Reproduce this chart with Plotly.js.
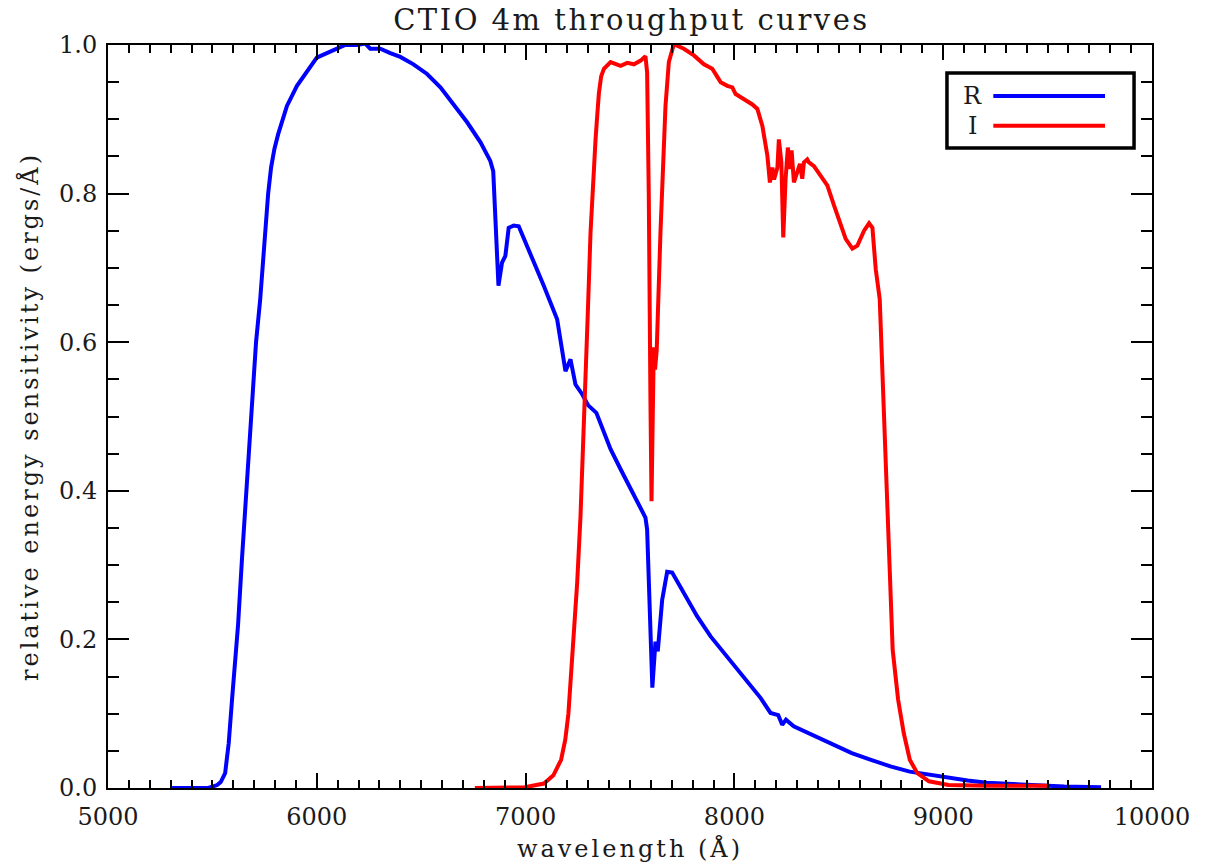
<!DOCTYPE html>
<html>
<head>
<meta charset="utf-8">
<script src="https://cdn.plot.ly/plotly-3.0.1.min.js"></script>
<style>
  html, body { margin: 0; padding: 0; background: #fff; }
  #chart { width: 1205px; height: 867px; }
  .gtitle { letter-spacing: 2.5px; }
  .xtitle, .ytitle { letter-spacing: 3px; }
</style>
</head>
<body>
<div id="chart"></div>
<script>
// CTIO 4m R-band throughput: wavelength (Å) and relative sensitivity
const rWave = [5307, 5480, 5523, 5540, 5561, 5578, 5594, 5608, 5623, 5642, 5662, 5685, 5709, 5729, 5748,
  5767, 5781, 5797, 5815, 5835, 5857, 5905,
  5953, 6000, 6048, 6096, 6136, 6192, 6232, 6256, 6304, 6352, 6400, 6463, 6528, 6592, 6655, 6720,
  6784, 6831, 6845, 6855, 6863, 6870, 6887, 6903, 6919, 6943, 6967, 7023, 7087, 7151, 7167, 7191,
  7215, 7239, 7271, 7300, 7339, 7407, 7455, 7503, 7574, 7582, 7590, 7598, 7607, 7622, 7633, 7654, 7678,
  7702, 7758, 7822, 7886, 7950, 8014, 8078, 8126, 8173, 8210, 8229, 8247, 8284, 8377, 8469, 8562,
  8654, 8747, 8840, 8932, 9025, 9117, 9209, 9394, 9580, 9756];
const rResp = [0.000, 0.000, 0.004, 0.008, 0.020, 0.060, 0.119, 0.170, 0.220, 0.310, 0.400, 0.500, 0.600, 0.658, 0.739,
  0.800, 0.835, 0.860, 0.880, 0.900, 0.918, 0.945,
  0.965, 0.983, 0.989, 0.995, 1.000, 1.000, 1.002, 0.995, 0.995, 0.989, 0.984, 0.974, 0.961, 0.943, 0.920, 0.896,
  0.869, 0.844, 0.830, 0.770, 0.720, 0.676, 0.707, 0.716, 0.754, 0.757, 0.756, 0.720, 0.676, 0.631, 0.604, 0.561,
  0.577, 0.543, 0.530, 0.515, 0.505, 0.456, 0.429, 0.402, 0.364, 0.348, 0.276, 0.186, 0.135, 0.197, 0.184, 0.253, 0.291,
  0.290, 0.263, 0.231, 0.204, 0.182, 0.159, 0.139, 0.121, 0.101, 0.098, 0.085, 0.092, 0.083, 0.071, 0.058, 0.047,
  0.038, 0.029, 0.022, 0.018, 0.013, 0.010, 0.007, 0.004, 0.002, 0.001];

// CTIO 4m I-band throughput
const iWave = [6757, 6996, 7088, 7133, 7170, 7190, 7205, 7218, 7231, 7247, 7263, 7276, 7287, 7298, 7311,
  7319, 7327, 7335, 7343, 7351, 7362, 7375, 7407, 7455, 7487, 7519, 7551, 7574, 7582, 7587, 7590, 7598,
  7603, 7610, 7614, 7620, 7628, 7646, 7654, 7670, 7686, 7710, 7758, 7806, 7854, 7894, 7934, 7966,
  7990, 8006, 8046, 8086, 8110, 8134, 8158, 8170, 8182, 8190, 8206, 8213, 8225, 8234, 8245, 8256,
  8266, 8274, 8285, 8301, 8314, 8325, 8333, 8349, 8357, 8381, 8413, 8445, 8477, 8509, 8533, 8565,
  8589, 8621, 8645, 8661, 8677, 8696, 8730, 8758, 8784, 8811, 8840, 8876, 8932, 9025, 9209, 9506];
const iResp = [0.000, 0.001, 0.006, 0.017, 0.038, 0.065, 0.100, 0.150, 0.200, 0.276, 0.366, 0.456, 0.540, 0.640, 0.748,
  0.797, 0.837, 0.873, 0.905, 0.935, 0.958, 0.968, 0.977, 0.972, 0.976, 0.974, 0.979, 0.985, 0.963, 0.873, 0.797, 0.520,
  0.386, 0.520, 0.593, 0.563, 0.590, 0.748, 0.797, 0.918, 0.977, 1.001, 0.995, 0.986, 0.974, 0.968, 0.950, 0.945,
  0.943, 0.934, 0.927, 0.920, 0.914, 0.891, 0.851, 0.815, 0.835, 0.819, 0.835, 0.873, 0.842, 0.741, 0.819, 0.862,
  0.833, 0.858, 0.815, 0.828, 0.840, 0.820, 0.842, 0.846, 0.842, 0.837, 0.824, 0.811, 0.784, 0.757, 0.739, 0.726,
  0.730, 0.750, 0.760, 0.754, 0.698, 0.658, 0.388, 0.186, 0.119, 0.074, 0.038, 0.020, 0.009, 0.004, 0.003, 0.003];

const bandNames = ['R', 'I'];
const bandColors = ['#0000ff', '#ff0000'];

const serif = 'DejaVu Serif, Liberation Serif, serif';
const ink = '#1a1a1a';

const traces = [
  { x: rWave, y: rResp, name: bandNames[0], type: 'scatter', mode: 'lines',
    line: { color: bandColors[0], width: 4 } },
  { x: iWave, y: iResp, name: bandNames[1], type: 'scatter', mode: 'lines',
    line: { color: bandColors[1], width: 4 } }
];

// Legend box drawn in paper coordinates: label on the left, line sample on the right
const legBox = { x0: 0.8036, x1: 0.9828, y0: 0.8615, y1: 0.9624 };
const legRows = [0.9315, 0.8913];
const shapes = [
  { type: 'rect', xref: 'paper', yref: 'paper', x0: legBox.x0, x1: legBox.x1, y0: legBox.y0, y1: legBox.y1,
    line: { color: '#000', width: 3.5 }, fillcolor: '#fff', layer: 'above' }
];
const annotations = [];
bandNames.forEach((nm, k) => {
  shapes.push({ type: 'line', xref: 'paper', yref: 'paper', x0: 0.848, x1: 0.955, y0: legRows[k], y1: legRows[k],
    line: { color: bandColors[k], width: 4 }, layer: 'above' });
  annotations.push({ xref: 'paper', yref: 'paper', x: 0.8285, y: legRows[k], text: nm, showarrow: false,
    xanchor: 'center', yanchor: 'middle', font: { family: serif, size: 24, color: ink } });
});

const layout = {
  width: 1205, height: 867,
  margin: { l: 108, r: 53, t: 45, b: 79 },
  paper_bgcolor: '#fff', plot_bgcolor: '#fff',
  showlegend: false,
  title: { text: 'CTIO 4m throughput curves', x: 0.524, xanchor: 'center', y: 0.977, yanchor: 'middle',
    font: { family: serif, size: 29, color: ink } },
  xaxis: {
    range: [5000, 10000], dtick: 1000, tick0: 5000, tickformat: 'd',
    showgrid: false, zeroline: false,
    showline: true, linecolor: '#000', linewidth: 2, mirror: 'allticks',
    ticks: 'inside', ticklen: 15, tickwidth: 2, tickcolor: '#000',
    minor: { dtick: 100, ticks: 'inside', ticklen: 8, tickwidth: 2, tickcolor: '#000', showgrid: false },
    tickfont: { family: serif, size: 24, color: ink },
    ticklabelstandoff: 6,
    title: { text: 'wavelength (Å)', font: { family: serif, size: 24, color: ink }, standoff: 10 }
  },
  yaxis: {
    range: [0, 1.0], dtick: 0.2, tick0: 0, tickformat: '.1f',
    showgrid: false, zeroline: false,
    showline: true, linecolor: '#000', linewidth: 2, mirror: 'allticks',
    ticks: 'inside', ticklen: 21, tickwidth: 2, tickcolor: '#000',
    minor: { dtick: 0.05, ticks: 'inside', ticklen: 11, tickwidth: 2, tickcolor: '#000', showgrid: false },
    tickfont: { family: serif, size: 24, color: ink },
    ticklabelstandoff: 4,
    title: { text: 'relative energy sensitivity (ergs/Å)', font: { family: serif, size: 24, color: ink }, standoff: 14 }
  },
  shapes: shapes,
  annotations: annotations
};

Plotly.newPlot('chart', traces, layout, { staticPlot: true, displayModeBar: false });
</script>
</body>
</html>
